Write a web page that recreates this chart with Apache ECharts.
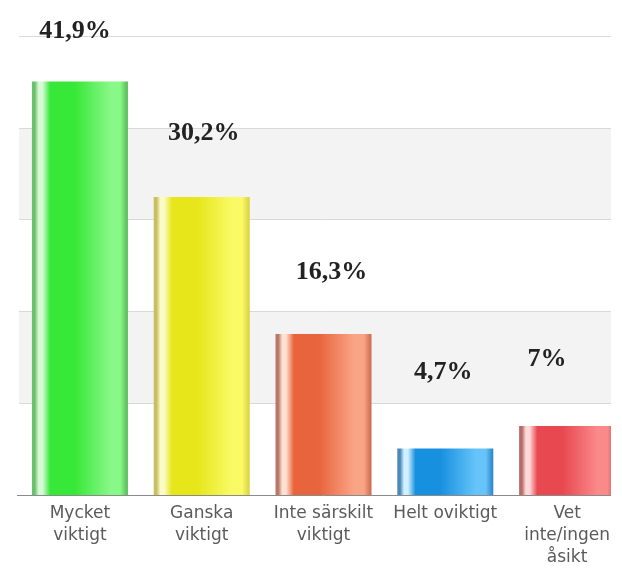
<!DOCTYPE html>
<html>
<head>
<meta charset="utf-8">
<script src="https://cdn.jsdelivr.net/npm/echarts@6/dist/echarts.min.js"></script>
<style>html,body{margin:0;padding:0;background:#fff;overflow:hidden}#c{width:640px;height:570px}</style>
</head>
<body>
<div id="c"></div>
<script>
// ---- data ----
const categories = ["Mycket\nviktigt", "Ganska\nviktigt", "Inte särskilt\nviktigt", "Helt oviktigt", "Vet\ninte/ingen\nåsikt"];
const values = [41.9, 30.2, 16.3, 4.7, 7];
const axisMin = 0;
const axisMax = 46.5;
const axisStep = 9.3;

// ---- styling ----
function cyl(edgeL, hi, main, light, edgeR) {
  return new echarts.graphic.LinearGradient(0, 0, 1, 0, [
    {offset: 0, color: edgeL},
    {offset: 0.03, color: edgeL},
    {offset: 0.07, color: hi},
    {offset: 0.11, color: hi},
    {offset: 0.19, color: main},
    {offset: 0.45, color: main},
    {offset: 0.82, color: light},
    {offset: 0.92, color: light},
    {offset: 1, color: edgeR}
  ]);
}
const fills = [
  cyl('#6cbf6c', '#d6fad6', '#38e838', '#88f888', '#55b855'),
  cyl('#c8c060', '#fbfbc8', '#e6e61a', '#fafa66', '#d8d040'),
  cyl('#b87868', '#fde0d0', '#e8643c', '#faa486', '#cc6a4a'),
  cyl('#4a88b8', '#d0f0ff', '#1890e0', '#66c4fa', '#2a84c4'),
  cyl('#b86a6a', '#ffd8d8', '#e84850', '#fa8a8a', '#cc5a5a')
];
const labelNudge = [[-5, 37], [2, 51], [8, 49], [-2, 63], [-20, 54]];

const chart = echarts.init(document.getElementById('c'), null, {renderer: 'canvas'});
chart.setOption({
  animation: false,
  backgroundColor: '#ffffff',
  grid: {left: 19, top: 36, right: 12, bottom: 75, containLabel: false},
  xAxis: {
    type: 'category',
    data: categories,
    axisLine: {lineStyle: {color: '#8a8a8a', width: 1}},
    axisTick: {show: false},
    axisLabel: {
      interval: 0, margin: 8, color: '#5a5a5a', fontSize: 17,
      fontFamily: 'DejaVu Sans', lineHeight: 22
    }
  },
  yAxis: {
    type: 'value', min: axisMin, max: axisMax, interval: axisStep,
    axisLabel: {show: false},
    axisLine: {show: false},
    axisTick: {show: false},
    splitLine: {lineStyle: {color: '#d9d9d9', width: 1}},
    splitArea: {show: true, areaStyle: {color: ['#ffffff', '#f3f3f3']}}
  },
  series: [{
    type: 'bar',
    barWidth: 96,
    data: values.map((v, i) => ({
      value: v,
      itemStyle: {color: fills[i]},
      label: {offset: [labelNudge[i][0], 0], distance: labelNudge[i][1]}
    })),
    label: {
      show: true, position: 'top',
      formatter: p => String(p.value).replace('.', ',') + '%',
      fontFamily: 'Liberation Serif', fontWeight: 'bold', fontSize: 26, color: '#222'
    }
  }],
  graphic: [{
    type: 'rect', z: 100,
    shape: {x: 611, y: 0, width: 29, height: 497},
    style: {fill: '#ffffff'}
  }, {
    type: 'line', z: 99,
    shape: {x1: 17, y1: 495.5, x2: 19, y2: 495.5},
    style: {stroke: '#8a8a8a', lineWidth: 1}
  }]
});
</script>
</body>
</html>
